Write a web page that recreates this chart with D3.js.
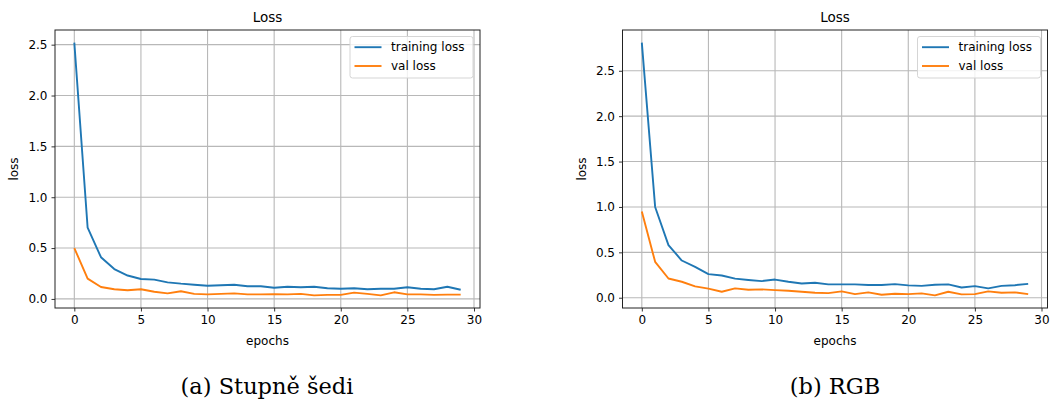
<!DOCTYPE html>
<html>
<head>
<meta charset="utf-8">
<script src="https://cdn.jsdelivr.net/npm/d3@7"></script>
<style>
  body { margin: 0; background: #fff; }
  svg { display: block; }
  text { font-family: "DejaVu Sans", sans-serif; fill: #000; }
  .caption { font-family: "DejaVu Serif", serif; }
</style>
</head>
<body>
<div id="chart"></div>
<script>
// data
const epochs = d3.range(0, 30);
const grayTrain = [2.52, 0.70, 0.41, 0.294, 0.23, 0.196, 0.19, 0.163, 0.15, 0.14,
  0.13, 0.135, 0.14, 0.125, 0.125, 0.11, 0.12, 0.115, 0.12, 0.105,
  0.10, 0.105, 0.095, 0.10, 0.10, 0.115, 0.10, 0.095, 0.12, 0.09];
const grayVal = [0.50, 0.20, 0.117, 0.095, 0.085, 0.095, 0.07, 0.055, 0.075, 0.05,
  0.045, 0.05, 0.055, 0.045, 0.045, 0.047, 0.045, 0.05, 0.035, 0.04,
  0.04, 0.062, 0.05, 0.035, 0.065, 0.045, 0.045, 0.04, 0.042, 0.042];
const rgbTrain = [2.81, 1.00, 0.58, 0.41, 0.34, 0.26, 0.245, 0.21, 0.195, 0.183,
  0.20, 0.176, 0.157, 0.165, 0.147, 0.147, 0.147, 0.14, 0.14, 0.15,
  0.136, 0.13, 0.143, 0.147, 0.113, 0.128, 0.103, 0.13, 0.138, 0.153];
const rgbVal = [0.95, 0.395, 0.212, 0.176, 0.125, 0.10, 0.066, 0.103, 0.088, 0.092,
  0.084, 0.077, 0.066, 0.055, 0.051, 0.07, 0.04, 0.059, 0.033, 0.044,
  0.04, 0.048, 0.026, 0.066, 0.037, 0.04, 0.07, 0.055, 0.059, 0.04];
const xTicks = [0, 5, 10, 15, 20, 25, 30];
const grayYTicks = [0, 0.5, 1.0, 1.5, 2.0, 2.5];
const rgbYTicks = [0, 0.5, 1.0, 1.5, 2.0, 2.5];
const seriesNames = ["training loss", "val loss"];
const seriesColors = ["#1f77b4", "#ff7f0e"];

const svg = d3.select("#chart").append("svg")
  .attr("width", 1056)
  .attr("height", 401);

function drawChart(frame, train, val, yTicks, caption) {
  const g = svg.append("g");

  // matplotlib style 5% margins
  const allY = train.concat(val);
  const yMin = d3.min(allY), yMax = d3.max(allY);
  const yPad = (yMax - yMin) * 0.05;
  const xPad = (d3.max(epochs) - d3.min(epochs)) * 0.05;

  const x = d3.scaleLinear()
    .domain([d3.min(epochs) - xPad, d3.max(epochs) + xPad])
    .range([frame.left, frame.right]);
  const y = d3.scaleLinear()
    .domain([yMin - yPad, yMax + yPad])
    .range([frame.bottom, frame.top]);

  // grid
  g.append("g").selectAll("line").data(xTicks).join("line")
    .attr("x1", d => x(d)).attr("x2", d => x(d))
    .attr("y1", frame.top).attr("y2", frame.bottom)
    .attr("stroke", "#b8b8b8").attr("stroke-width", 1.1);
  g.append("g").selectAll("line").data(yTicks).join("line")
    .attr("x1", frame.left).attr("x2", frame.right)
    .attr("y1", d => y(d)).attr("y2", d => y(d))
    .attr("stroke", "#b8b8b8").attr("stroke-width", 1.1);

  // axes
  const xAxis = g.append("g")
    .attr("transform", `translate(0,${frame.bottom})`)
    .call(d3.axisBottom(x).tickValues(xTicks).tickFormat(d3.format("d")).tickSizeOuter(0).tickSize(3.5).tickPadding(4));
  const yAxis = g.append("g")
    .attr("transform", `translate(${frame.left},0)`)
    .call(d3.axisLeft(y).tickValues(yTicks).tickFormat(d3.format(".1f")).tickSizeOuter(0).tickSize(3.5).tickPadding(4));
  [xAxis, yAxis].forEach(a => {
    a.select(".domain").remove();
    a.selectAll("line").attr("stroke", "#000").attr("stroke-width", 0.8);
    a.selectAll("text").attr("font-size", 12).attr("font-family", "DejaVu Sans").attr("fill", "#111");
  });

  // lines
  const line = d3.line().x((d, i) => x(epochs[i])).y(d => y(d));
  [train, val].forEach((s, i) => {
    g.append("path")
      .datum(s)
      .attr("fill", "none")
      .attr("stroke", seriesColors[i])
      .attr("stroke-width", 1.9)
      .attr("stroke-linejoin", "round")
      .attr("d", line);
  });

  // frame
  g.append("rect")
    .attr("x", frame.left).attr("y", frame.top)
    .attr("width", frame.right - frame.left)
    .attr("height", frame.bottom - frame.top)
    .attr("fill", "none").attr("stroke", "#222").attr("stroke-width", 1);

  const cx = (frame.left + frame.right) / 2;
  g.append("text").attr("x", cx).attr("y", 21.5)
    .attr("text-anchor", "middle").attr("font-size", 13.5).text("Loss");
  g.append("text").attr("x", cx).attr("y", 345)
    .attr("text-anchor", "middle").attr("font-size", 12).text("epochs");
  g.append("text")
    .attr("transform", `translate(${frame.left - 37},${(frame.top + frame.bottom) / 2}) rotate(-90)`)
    .attr("text-anchor", "middle").attr("font-size", 12).text("loss");

  // legend
  const lg = g.append("g").attr("transform", `translate(${frame.right - 130},${frame.top + 6.5})`);
  lg.append("rect")
    .attr("width", 123).attr("height", 41.5).attr("rx", 2.5)
    .attr("fill", "#fff").attr("fill-opacity", 0.8)
    .attr("stroke", "#d5d5d5").attr("stroke-width", 1);
  seriesNames.forEach((name, i) => {
    lg.append("line")
      .attr("x1", 4.5).attr("x2", 31.5)
      .attr("y1", 10.7 + i * 18.8).attr("y2", 10.7 + i * 18.8)
      .attr("stroke", seriesColors[i]).attr("stroke-width", 1.9);
    lg.append("text")
      .attr("x", 41).attr("y", 10.7 + i * 18.8)
      .attr("dy", "0.35em").attr("font-size", 12).text(name);
  });

  svg.append("text").attr("class", "caption")
    .attr("x", caption.x).attr("y", 394)
    .attr("text-anchor", "middle").attr("font-size", 22.5).text(caption.text);
}

drawChart({ left: 55, right: 480, top: 30, bottom: 308 }, grayTrain, grayVal, grayYTicks,
  { x: 267, text: "(a) Stupně šedi" });
drawChart({ left: 622.5, right: 1047.5, top: 30, bottom: 308 }, rgbTrain, rgbVal, rgbYTicks,
  { x: 835, text: "(b) RGB" });
</script>
</body>
</html>
